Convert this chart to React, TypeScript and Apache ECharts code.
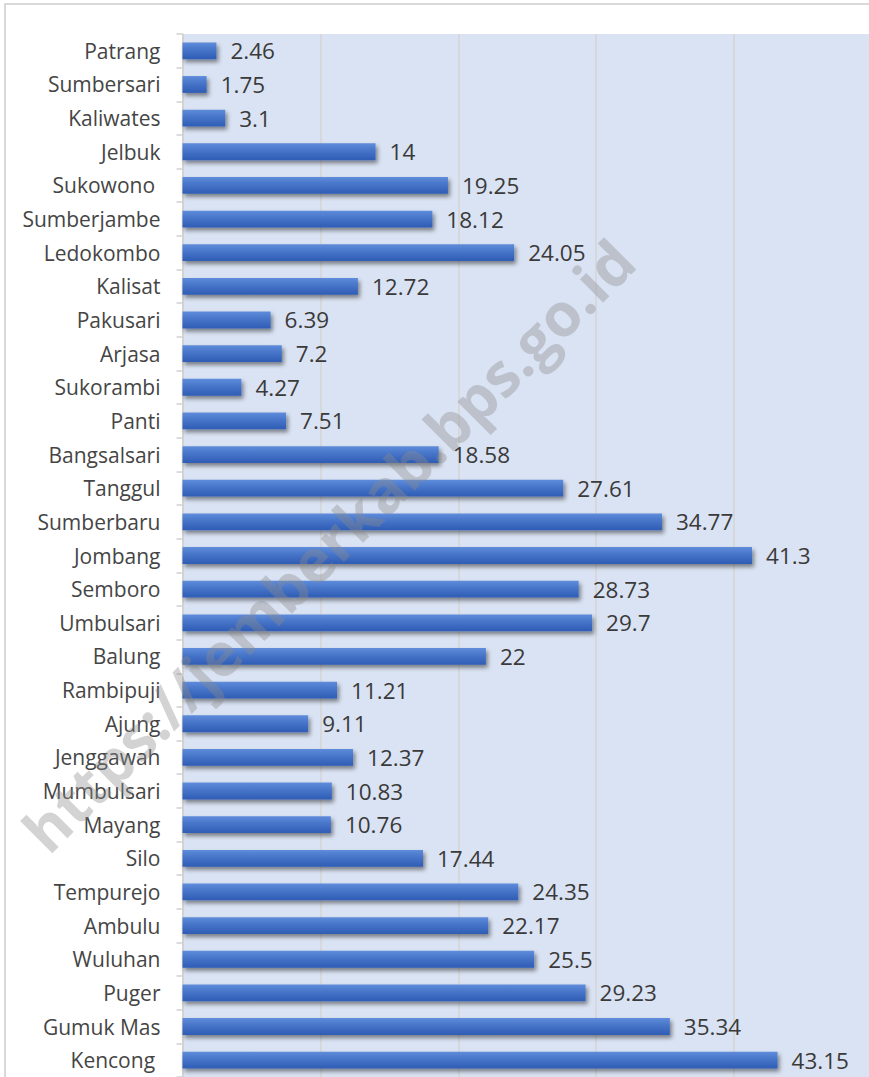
import React, { useEffect, useRef } from "react";
import * as echarts from "echarts";

const categories = [
  "Patrang", "Sumbersari", "Kaliwates", "Jelbuk", "Sukowono ", "Sumberjambe", "Ledokombo",
  "Kalisat", "Pakusari", "Arjasa", "Sukorambi", "Panti", "Bangsalsari", "Tanggul",
  "Sumberbaru", "Jombang", "Semboro", "Umbulsari", "Balung", "Rambipuji", "Ajung",
  "Jenggawah", "Mumbulsari", "Mayang", "Silo", "Tempurejo", "Ambulu", "Wuluhan",
  "Puger", "Gumuk Mas", "Kencong ",
];

const values = [
  2.46, 1.75, 3.1, 14, 19.25, 18.12, 24.05,
  12.72, 6.39, 7.2, 4.27, 7.51, 18.58, 27.61,
  34.77, 41.3, 28.73, 29.7, 22, 11.21, 9.11,
  12.37, 10.83, 10.76, 17.44, 24.35, 22.17, 25.5,
  29.23, 35.34, 43.15,
];

const xMin = 0;
const xMax = 50;
const xInterval = 10;

const watermark = "https://jemberkab.bps.go.id";

export default function App() {
  const ref = useRef<HTMLDivElement>(null);
  useEffect(() => {
    document.body.style.margin = "0";
    document.body.style.overflow = "hidden";
    const chart = echarts.init(ref.current!, undefined, { renderer: "svg" });
    const font = "'Open Sans', 'Noto Sans', sans-serif";
    chart.setOption({
      animation: false,
      backgroundColor: "#ffffff",
      grid: {
        left: 182.5,
        right: 8,
        top: 34,
        bottom: 0,
        show: true,
        backgroundColor: "#dae3f3",
        borderWidth: 0,
      },
      xAxis: {
        type: "value",
        min: xMin,
        max: xMax,
        interval: xInterval,
        axisLabel: { show: false },
        axisLine: { show: false },
        axisTick: { show: false },
        splitLine: { show: true, lineStyle: { color: "#d4d4d4", width: 1.5 } },
      },
      yAxis: {
        type: "category",
        data: categories,
        inverse: true,
        axisLine: { show: true, lineStyle: { color: "#d0d0d0", width: 1.5 } },
        axisTick: { show: true, length: 6, lineStyle: { color: "#d0d0d0", width: 1.5 } },
        axisLabel: {
          color: "#454545",
          fontSize: 21,
          fontFamily: font,
          margin: 22,
        },
      },
      series: [
        {
          type: "bar",
          data: values,
          barWidth: "50%",
          itemStyle: {
            color: new echarts.graphic.LinearGradient(0, 0, 0, 1, [
              { offset: 0, color: "#5f8cdb" },
              { offset: 0.45, color: "#4674c8" },
              { offset: 1, color: "#2f5db5" },
            ]),
            shadowColor: "rgba(0,0,0,0.45)",
            shadowBlur: 4,
            shadowOffsetX: 2,
            shadowOffsetY: 3,
          },
          label: {
            show: true,
            position: "right",
            distance: 14,
            color: "#3a3a3a",
            fontSize: 22.5,
            fontFamily: font,
          },
        },
      ],
      graphic: [
        {
          type: "rect",
          z: -10,
          silent: true,
          shape: { x: 5, y: 4, width: 1000, height: 1200 },
          style: { fill: "none", stroke: "#d9d9d9", lineWidth: 2 },
        },
        {
          type: "text",
          z: 100,
          silent: true,
          x: 328,
          y: 545,
          rotation: Math.PI / 4,
          style: {
            text: watermark,
            fontSize: 60,
            fontWeight: "bold",
            fontFamily: font,
            fill: "rgba(140,140,140,0.38)",
            align: "center",
            verticalAlign: "middle",
          },
        },
      ],
    });
    return () => chart.dispose();
  }, []);
  return <div ref={ref} style={{ width: 880, height: 1077 }} />;
}
